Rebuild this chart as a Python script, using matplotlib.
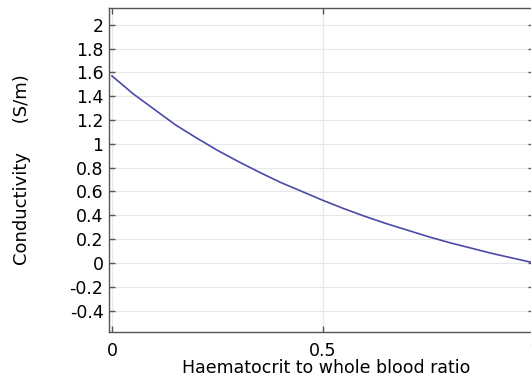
import numpy as np
import matplotlib
matplotlib.use("Agg")
import matplotlib.pyplot as plt

plt.rcParams['axes.unicode_minus'] = False
plt.rcParams['font.family'] = 'DejaVu Sans'

# Haematocrit fraction and the resulting blood conductivity (S/m)
haematocrit = [0.0, 0.05, 0.1, 0.15, 0.2, 0.25, 0.3, 0.35, 0.4, 0.45, 0.5,
               0.55, 0.6, 0.65, 0.7, 0.75, 0.8, 0.85, 0.9, 0.95, 1.0]
conductivity = [1.57, 1.42, 1.29, 1.16, 1.05, 0.945, 0.85, 0.76, 0.675, 0.60, 0.525,
                0.455, 0.39, 0.33, 0.275, 0.22, 0.17, 0.125, 0.08, 0.04, 0.0]

y_ticks = [2, 1.8, 1.6, 1.4, 1.2, 1, 0.8, 0.6, 0.4, 0.2, 0, -0.2, -0.4]
y_tick_labels = ['2', '1.8', '1.6', '1.4', '1.2', '1', '0.8', '0.6', '0.4', '0.2', '0', '-0.2', '-0.4']
x_ticks = [0, 0.5, 1]
x_tick_labels = ['0', '0.5', '1']

W, H = 531, 378
fig = plt.figure(figsize=(W / 100, H / 100), dpi=100)
ax = fig.add_axes([109 / W, 46 / H, (534 - 109) / W, (332 - 8) / H])

ax.plot(haematocrit, conductivity, color='#4a4aa8', linewidth=1.2)

ax.set_xlim(-0.007, 1.0)
ax.set_ylim(-0.58, 2.14)
ax.set_xticks(x_ticks)
ax.set_xticklabels(x_tick_labels)
ax.set_yticks(y_ticks)
ax.set_yticklabels(y_tick_labels)

ax.grid(True, color='#e8e8e8', linewidth=0.9)
ax.set_axisbelow(True)
for s in ax.spines.values():
    s.set_color('#555555')
    s.set_linewidth(1.0)

ax.tick_params(axis='both', direction='in', length=4, width=1, color='#555555',
               labelsize=12.5, top=True, right=True)
ax.tick_params(axis='x', pad=7)
ax.tick_params(axis='y', pad=4)

ax.set_xlabel('Haematocrit to whole blood ratio', fontsize=12.5)
ax.xaxis.set_label_coords(0.51, -0.083)
ax.set_ylabel('Conductivity     (S/m)', fontsize=13)
ax.yaxis.set_label_coords(-0.183, 0.5)

fig.savefig('out.png', dpi=100)
